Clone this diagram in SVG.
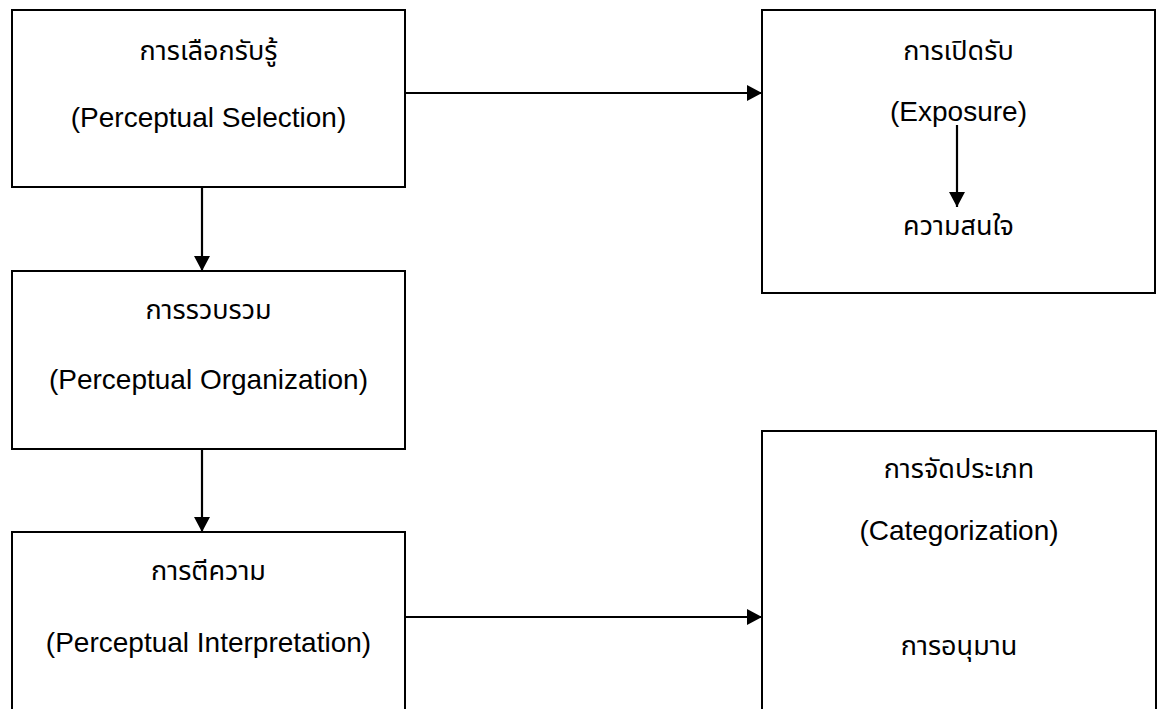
<svg xmlns="http://www.w3.org/2000/svg" width="1162" height="709" viewBox="0 0 1162 709">
<style>
.box{fill:#fff;stroke:#000;stroke-width:2}
.t{font-family:"Liberation Sans","Noto Sans Thai","Noto Sans","DejaVu Sans",sans-serif;font-size:28px;fill:#000;text-anchor:middle}
.th{font-size:27px}
.c{stroke:#000;stroke-width:2.2;fill:none}
</style>
<defs>
<marker id="ah" markerWidth="16" markerHeight="16" refX="15" refY="8" orient="auto" markerUnits="userSpaceOnUse">
<path d="M0,0 L15,8 L0,16 Z" fill="#000"/>
</marker>
</defs>
<rect width="1162" height="709" fill="#fff"/>
<g id="selection">
<rect class="box" x="12" y="10" width="393" height="177"/>
<text class="t th" x="208.5" y="60">การเลือกรับรู้</text>
<text class="t" x="208.5" y="127">(Perceptual Selection)</text>
</g>
<g id="exposure">
<rect class="box" x="762" y="10" width="393" height="283"/>
<text class="t th" x="958.5" y="60">การเปิดรับ</text>
<text class="t" x="958.5" y="121">(Exposure)</text>
<text class="t th" x="958.5" y="235">ความสนใจ</text>
</g>
<g id="organization">
<rect class="box" x="12" y="271" width="393" height="178"/>
<text class="t th" x="208.5" y="319">การรวบรวม</text>
<text class="t" x="208.5" y="389">(Perceptual Organization)</text>
</g>
<g id="interpretation">
<rect class="box" x="12" y="532" width="393" height="200"/>
<text class="t th" x="208.5" y="580">การตีความ</text>
<text class="t" x="208.5" y="652">(Perceptual Interpretation)</text>
</g>
<g id="categorization">
<rect class="box" x="762" y="431" width="394" height="300"/>
<text class="t th" x="959" y="478">การจัดประเภท</text>
<text class="t" x="959" y="540">(Categorization)</text>
<text class="t th" x="959" y="655">การอนุมาน</text>
</g>
<g id="connectors">
<line class="c" x1="405" y1="93" x2="762" y2="93" marker-end="url(#ah)"/>
<line class="c" x1="202" y1="187" x2="202" y2="271" marker-end="url(#ah)"/>
<line class="c" x1="202" y1="449" x2="202" y2="532" marker-end="url(#ah)"/>
<line class="c" x1="405" y1="617" x2="762" y2="617" marker-end="url(#ah)"/>
<line class="c" x1="957" y1="125" x2="957" y2="207" marker-end="url(#ah)"/>
</g>
</svg>
